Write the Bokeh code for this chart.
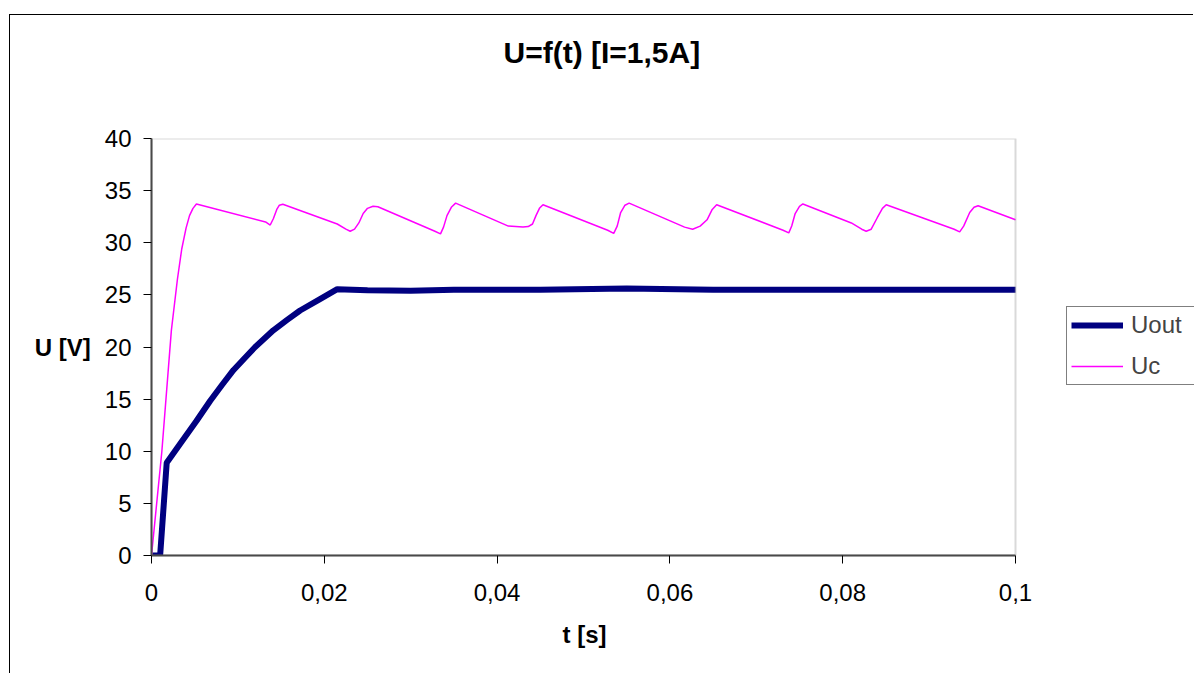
from bokeh.plotting import figure
from bokeh.models import (Range1d, FixedTicker, CustomJSTickFormatter, Legend, LegendItem,
                          BoxAnnotation, Title)
from bokeh.embed import file_html
from bokeh.resources import INLINE

# Data
uc_t = [0, 0.0012, 0.0023, 0.0030, 0.0035, 0.0040, 0.0044, 0.0048, 0.0052,
        0.0132, 0.01374, 0.0141, 0.0145, 0.0148, 0.0152,
        0.0215, 0.0225, 0.0230, 0.0235, 0.0240, 0.0245, 0.0250, 0.02564, 0.0262,
        0.0328, 0.03345, 0.0338, 0.0342, 0.0347, 0.0352,
        0.0413, 0.0430, 0.0436, 0.0441, 0.0445, 0.0449, 0.04531,
        0.0528, 0.0535, 0.0539, 0.0543, 0.0548, 0.05528,
        0.0617, 0.06263, 0.0635, 0.0643, 0.0649, 0.06541,
        0.0731, 0.07376, 0.0741, 0.0745, 0.0750, 0.07539,
        0.0810, 0.0822, 0.08272, 0.0833, 0.0840, 0.0846, 0.08504,
        0.0929, 0.09354, 0.0940, 0.0947, 0.0952, 0.09567, 0.1]
uc_v = [0, 10, 21.6, 26.5, 29.4, 31.4, 32.6, 33.3, 33.72,
        32.0, 31.7, 32.3, 33.2, 33.6, 33.7,
        31.8, 31.3, 31.1, 31.3, 31.9, 32.8, 33.3, 33.5, 33.45,
        31.1, 30.85, 31.5, 32.6, 33.4, 33.8,
        31.6, 31.5, 31.55, 31.8, 32.6, 33.3, 33.65,
        31.2, 30.9, 31.6, 32.9, 33.6, 33.8,
        31.5, 31.3, 31.6, 32.2, 33.2, 33.65,
        31.2, 30.95, 31.6, 32.8, 33.5, 33.72,
        31.9, 31.3, 31.1, 31.3, 32.4, 33.3, 33.65,
        31.3, 31.05, 31.6, 32.9, 33.4, 33.55, 32.2]

uout_t = [0.0001, 0.001, 0.00176, 0.0033, 0.0052, 0.0068, 0.0082, 0.0095, 0.0108, 0.012,
          0.0141, 0.0157, 0.0172, 0.0195, 0.0215, 0.025, 0.03, 0.035, 0.045, 0.055,
          0.065, 0.08, 0.1]
uout_v = [0, 0, 8.9, 10.7, 12.9, 14.85, 16.4, 17.8, 18.95, 20.0,
          21.6, 22.6, 23.5, 24.6, 25.55, 25.45, 25.4, 25.5, 25.5, 25.6,
          25.5, 25.5, 25.5]

x_ticks = [0, 0.02, 0.04, 0.06, 0.08, 0.1]
y_ticks = [0, 5, 10, 15, 20, 25, 30, 35, 40]
x_min, x_max = 0, 0.1
y_min, y_max = 0, 40

FONT = "Liberation Sans"

# frame spans to the right edge so the legend fits inside; the axis stays at 0..0.1
FRAME_LEFT, FRAME_RIGHT, AXIS_RIGHT = 151, 1194, 1015
x_view_max = x_max * (FRAME_RIGHT - FRAME_LEFT) / (AXIS_RIGHT - FRAME_LEFT)

p = figure(width=1184, height=659, output_backend="svg", toolbar_location=None,
           x_range=Range1d(x_min, x_view_max), y_range=Range1d(y_min, y_max),
           min_border_left=141, min_border_top=0, min_border_right=0, min_border_bottom=119,
           title="U=f(t) [I=1,5A]")
p.styles = {"margin-left": "9px", "margin-top": "14px",
            "border-left": "1px solid black", "border-top": "1px solid black"}

# spacer between title and frame
p.add_layout(Title(text=" ", text_font_size="10px", standoff=39), "above")

p.title.align = "left"
p.title.offset = 352
p.title.text_font = FONT
p.title.text_font_size = "30px"
p.title.text_font_style = "bold"
p.title.text_color = "black"
p.title.standoff = 36

p.xgrid.visible = False
p.ygrid.visible = False
p.outline_line_color = None

p.add_layout(BoxAnnotation(left=x_min, right=x_max, bottom=y_min, top=y_max,
                           fill_alpha=0, line_color="#808080", line_width=2))

r1 = p.line(uout_t, uout_v, line_color="#000080", line_width=6)
r2 = p.line(uc_t, uc_v, line_color="#FF00FF", line_width=1.5)

for ax in (p.xaxis[0], p.yaxis[0]):
    ax.axis_line_color = "#404040"
    ax.axis_line_width = 2
    ax.major_tick_line_color = "black"
    ax.major_tick_in = 0
    ax.major_tick_out = 8
    ax.minor_tick_line_color = None
    ax.major_label_text_font = FONT
    ax.major_label_text_font_size = "24px"
    ax.major_label_text_color = "black"
    ax.axis_label_text_font = FONT
    ax.axis_label_text_font_size = "24px"
    ax.axis_label_text_font_style = "bold"
    ax.axis_label_text_color = "black"

p.xaxis[0].bounds = (x_min, x_max)
p.xaxis[0].ticker = FixedTicker(ticks=x_ticks)
p.yaxis[0].ticker = FixedTicker(ticks=y_ticks)
p.xaxis[0].formatter = CustomJSTickFormatter(code="""
var s = tick.toFixed(2).replace(/0+$/, '').replace(/\\.$/, '');
return s.replace('.', ',');
""")
p.xaxis[0].major_label_standoff = 20
p.yaxis[0].major_label_standoff = 12
p.yaxis[0].axis_label = "U [V]"
p.yaxis[0].axis_label_orientation = "horizontal"
p.yaxis[0].axis_label_standoff = 11

# x-axis label, centred under the 0..0.1 axis
xlabel = Title(text="t [s]", align="left", offset=411, text_font=FONT,
               text_font_size="24px", text_font_style="bold", text_color="black",
               standoff=30)
p.add_layout(xlabel, "below")

legend = Legend(items=[LegendItem(label="Uout", renderers=[r1]),
                       LegendItem(label="Uc", renderers=[r2])],
                location=(915, 170))
legend.label_text_font = FONT
legend.label_text_font_size = "24px"
legend.border_line_color = "black"
legend.border_line_width = 1
legend.glyph_width = 52
legend.label_standoff = 8
legend.label_width = 59
legend.label_height = 24
legend.glyph_height = 24
legend.spacing = 13
legend.padding = 4
legend.margin = 0
legend.background_fill_alpha = 1
p.add_layout(legend, "center")

open("out.html", "w").write(file_html(p, INLINE))
